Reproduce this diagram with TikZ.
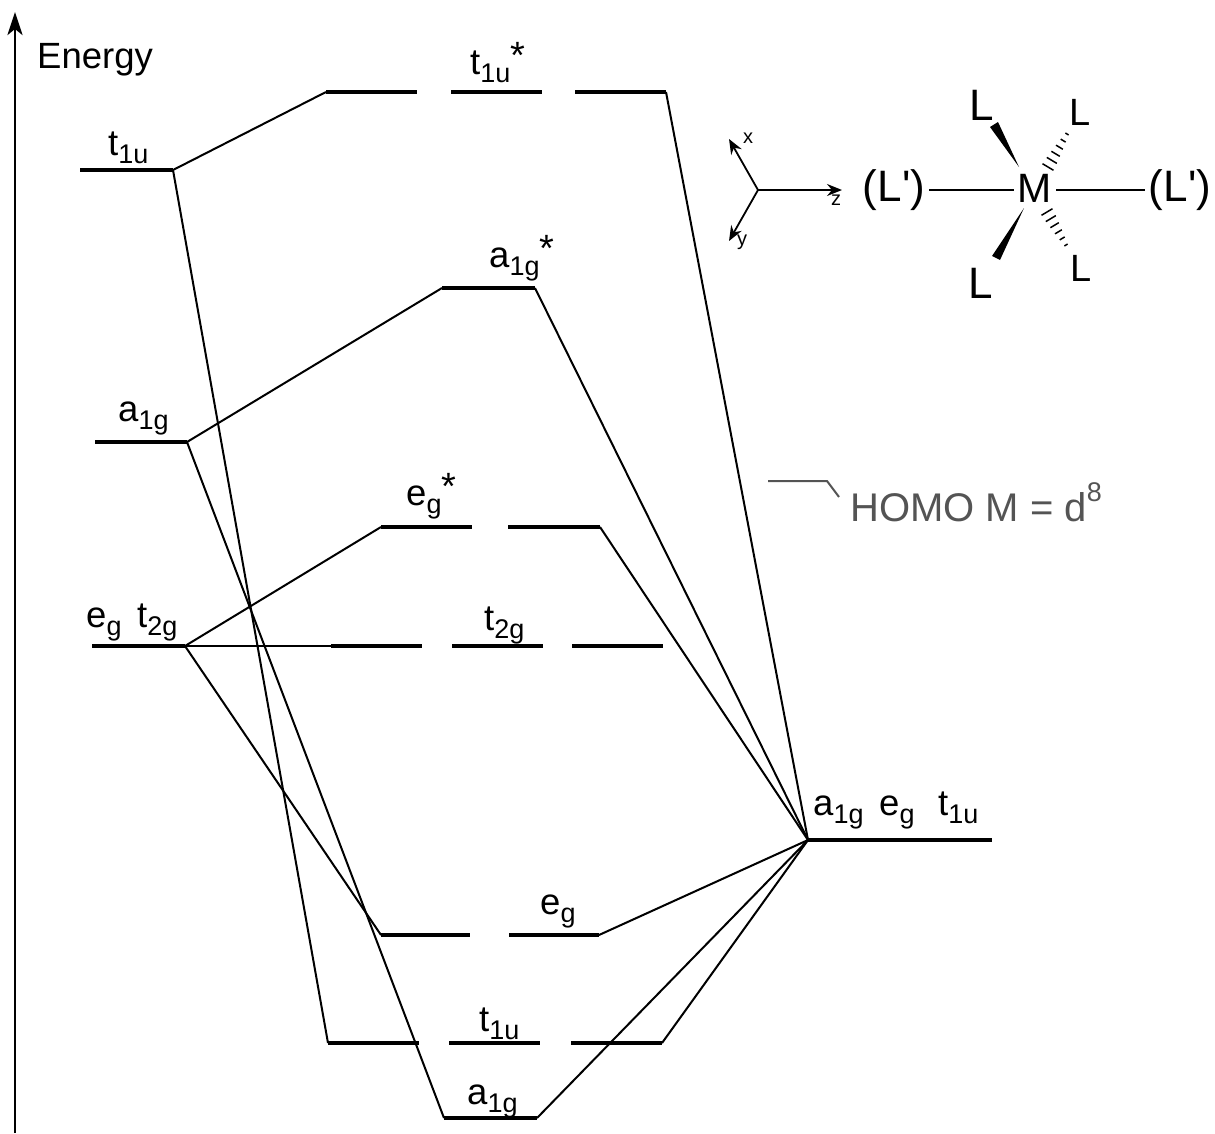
\documentclass[tikz,border=0pt]{standalone}
\usepackage{fontspec}
\setmainfont{Liberation Sans}
\usetikzlibrary{arrows.meta,calc}

\newcommand{\orb}[2]{#1\raisebox{-0.24em}{\fontsize{27}{27}\selectfont #2}}
\newcommand{\orbstar}{\raisebox{0.15em}{\fontsize{38}{38}\selectfont *}}

\tikzset{
	level/.style={line width=3.6pt},
	link/.style={line width=2pt},
	bond/.style={line width=1.6pt},
	axis/.style={line width=1.8pt,-{Stealth[length=15pt,width=12pt,inset=5pt]}},
	orblabel/.style={anchor=base west,inner sep=0pt,font=\fontsize{36.5}{40}\selectfont},
	homolabel/.style={anchor=base west,inner sep=0pt,font=\fontsize{40}{44}\selectfont},
	ligand/.style={inner sep=0pt,outer sep=4pt,font=\fontsize{44}{48}\selectfont},
	metalatom/.style={inner sep=0pt,outer sep=4pt,font=\fontsize{41}{48}\selectfont},
	smallligand/.style={inner sep=0pt,font=\fontsize{38}{42}\selectfont},
	axislabel/.style={inner sep=0pt,font=\fontsize{20}{22}\selectfont},
	homo/.style={black!67}
}

\begin{document}
\begin{tikzpicture}[x=1pt,y=-1pt]
	\useasboundingbox (0,0) rectangle (1215,1133);

	\coordinate (eBottom) at (15,1133);
	\coordinate (eTop) at (15,12);
	\draw[line width=2.8pt,-{Stealth[length=23pt,width=15pt,inset=6pt]}] (eBottom) -- (eTop);
	\node[orblabel] (energy) at (37,68) {Energy};

	\foreach \lev/\xa/\xb/\yy in {
		lt/80/173/170, la/95/187/442, le/92/185/646, rr/808/992/840,
		tsa/326/417/92, tsb/451/542/92, tsc/575/666/92,
		as/442/535/288,
		esa/381/472/527, esb/508/600/527,
		tga/331/422/646, tgb/452/543/646, tgc/572/663/646,
		ea/381/470/935, eb/509/599/935,
		tua/328/419/1043, tub/449/540/1043, tuc/571/662/1043,
		ab/444/537/1118}
	{
		\coordinate (\lev-l) at (\xa,\yy);
		\coordinate (\lev-r) at (\xb,\yy);
		\draw[level] (\lev-l) -- (\lev-r);
	}

	\foreach \from/\to in {lt-r/tsa-l, lt-r/tua-l, la-r/as-l, la-r/ab-l, le-r/esa-l, le-r/tga-l, le-r/ea-l,
		rr-l/tsc-r, rr-l/as-r, rr-l/esb-r, rr-l/eb-r, rr-l/tuc-r, rr-l/ab-r}
		\draw[link] (\from) -- (\to);

	\node[orblabel] (lab1) at (108,155) {\orb{t}{1u}};
	\node[orblabel] (lab2) at (118,421) {\orb{a}{1g}};
	\node[orblabel] (lab3) at (86,627) {\orb{e}{g}};
	\node[orblabel] (lab4) at (137,627) {\orb{t}{2g}};
	\node[orblabel] (lab5) at (470,74) {\orb{t}{1u}\orbstar};
	\node[orblabel] (lab6) at (489,267) {\orb{a}{1g}\orbstar};
	\node[orblabel] (lab7) at (406,505) {\orb{e}{g}\orbstar};
	\node[orblabel] (lab8) at (484,630) {\orb{t}{2g}};
	\node[orblabel] (lab9) at (813,815) {\orb{a}{1g}};
	\node[orblabel] (lab10) at (879,815) {\orb{e}{g}};
	\node[orblabel] (lab11) at (938,815) {\orb{t}{1u}};
	\node[orblabel] (lab12) at (540,914) {\orb{e}{g}};
	\node[orblabel] (lab13) at (479,1031) {\orb{t}{1u}};
	\node[orblabel] (lab14) at (467,1104) {\orb{a}{1g}};

	\coordinate (origin) at (758,190);
	\coordinate (xEnd) at (729,139);
	\coordinate (yEnd) at (729,241);
	\coordinate (zEnd) at (842,190);
	\draw[axis] (origin) -- (xEnd);
	\draw[axis] (origin) -- (yEnd);
	\draw[axis] (origin) -- (zEnd);
	\node[axislabel] (xLabel) at (748,138) {x};
	\node[axislabel] (yLabel) at (742,242) {y};
	\node[axislabel] (zLabel) at (836,200) {z};

	\node[metalatom] (metal) at (1035,188) {M};
	\node[ligand] (ligLeft) at (894,190) {(L\textquotesingle)};
	\node[ligand] (ligRight) at (1180,190) {(L\textquotesingle)};
	\draw[bond] (ligLeft.east) -- (ligLeft.east -| metal.west);
	\draw[bond] (ligRight.west) -- (ligRight.west -| metal.east);

	\node[ligand] (ligA) at (982,105) {L};
	\node[ligand] (ligB) at (981,283) {L};
	\node[smallligand] (ligC) at (1080,112) {L};
	\node[smallligand] (ligD) at (1081,268) {L};

	\coordinate (wedgeA) at (1019,167);
	\coordinate (wedgeB) at (1024,208);
	\fill (wedgeA) -- (998,122) -- (990,127) -- cycle;
	\fill (wedgeB) -- (1000,260) -- (992,256) -- cycle;

	\coordinate (hashA) at (1048,167);
	\coordinate (hashB) at (1067,134);
	\coordinate (hashC) at (1047,212);
	\coordinate (hashD) at (1066,245);
	\foreach \t/\w in {0/5.5,0.2/5,0.4/4.2,0.6/3.4,0.8/2.5,1/1.6}{
		\draw[line width=1.5pt] ($(hashA)!\t!(hashB)+(-\w,-0.6*\w)$) -- ($(hashA)!\t!(hashB)+(\w,0.6*\w)$);
		\draw[line width=1.5pt] ($(hashC)!\t!(hashD)+(-\w,0.6*\w)$) -- ($(hashC)!\t!(hashD)+(\w,-0.6*\w)$);
	}

	\coordinate (homoA) at (768,481);
	\coordinate (homoB) at (827,481);
	\coordinate (homoC) at (839,497);
	\draw[homo,line width=2pt] (homoA) -- (homoB) -- (homoC);
	\node[homolabel,homo] (homoLabel) at (850,521) {HOMO M = d\raisebox{0.5em}{\fontsize{27}{27}\selectfont 8}};
\end{tikzpicture}
\end{document}
